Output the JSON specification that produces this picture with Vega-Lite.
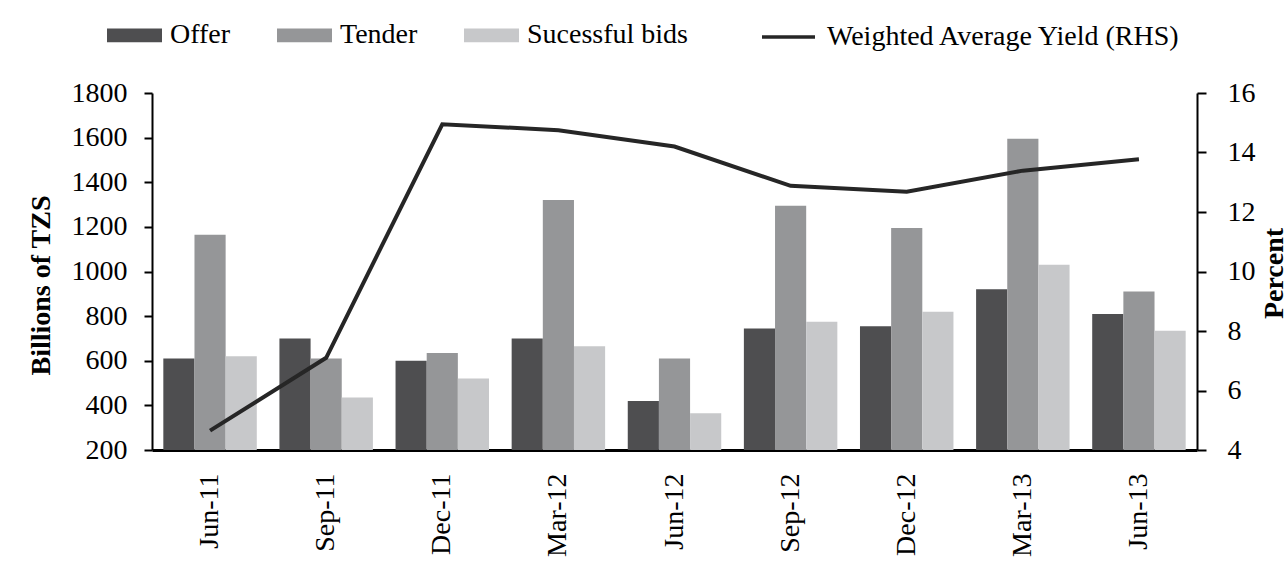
{
  "$schema": "https://vega.github.io/schema/vega-lite/v6.json",
  "width": 1045,
  "height": 357,
  "autosize": {"type": "none"},
  "padding": {"left": 152, "top": 93, "right": 90, "bottom": 118},
  "background": "white",
  "config": {
    "view": {"stroke": null},
    "font": "Liberation Serif",
    "axis": {
      "labelFont": "Liberation Serif",
      "labelFontSize": 28,
      "labelColor": "black",
      "titleFont": "Liberation Serif",
      "titleFontSize": 28,
      "titleFontWeight": "bold",
      "titleColor": "black",
      "domainColor": "black",
      "tickColor": "black",
      "grid": false,
      "labelOverlap": false
    }
  },
  "datasets": {
    "bars": [
      {"date": "Jun-11", "series": "Offer", "value": 610},
      {"date": "Jun-11", "series": "Tender", "value": 1165},
      {"date": "Jun-11", "series": "Sucessful bids", "value": 620},
      {"date": "Sep-11", "series": "Offer", "value": 700},
      {"date": "Sep-11", "series": "Tender", "value": 610},
      {"date": "Sep-11", "series": "Sucessful bids", "value": 435},
      {"date": "Dec-11", "series": "Offer", "value": 600},
      {"date": "Dec-11", "series": "Tender", "value": 635},
      {"date": "Dec-11", "series": "Sucessful bids", "value": 520},
      {"date": "Mar-12", "series": "Offer", "value": 700},
      {"date": "Mar-12", "series": "Tender", "value": 1320},
      {"date": "Mar-12", "series": "Sucessful bids", "value": 665},
      {"date": "Jun-12", "series": "Offer", "value": 420},
      {"date": "Jun-12", "series": "Tender", "value": 610},
      {"date": "Jun-12", "series": "Sucessful bids", "value": 365},
      {"date": "Sep-12", "series": "Offer", "value": 745},
      {"date": "Sep-12", "series": "Tender", "value": 1295},
      {"date": "Sep-12", "series": "Sucessful bids", "value": 775},
      {"date": "Dec-12", "series": "Offer", "value": 755},
      {"date": "Dec-12", "series": "Tender", "value": 1195},
      {"date": "Dec-12", "series": "Sucessful bids", "value": 820},
      {"date": "Mar-13", "series": "Offer", "value": 920},
      {"date": "Mar-13", "series": "Tender", "value": 1595},
      {"date": "Mar-13", "series": "Sucessful bids", "value": 1030},
      {"date": "Jun-13", "series": "Offer", "value": 810},
      {"date": "Jun-13", "series": "Tender", "value": 910},
      {"date": "Jun-13", "series": "Sucessful bids", "value": 735}
    ],
    "yield": [
      {"date": "Jun-11", "yield": 4.65},
      {"date": "Sep-11", "yield": 7.1},
      {"date": "Dec-11", "yield": 14.95},
      {"date": "Mar-12", "yield": 14.75},
      {"date": "Jun-12", "yield": 14.2},
      {"date": "Sep-12", "yield": 12.88},
      {"date": "Dec-12", "yield": 12.68},
      {"date": "Mar-13", "yield": 13.39},
      {"date": "Jun-13", "yield": 13.77}
    ]
  },
  "layer": [
    {
      "data": {"name": "bars"},
      "mark": {"type": "bar", "clip": true},
      "encoding": {
        "x": {
          "field": "date",
          "type": "nominal",
          "sort": ["Jun-11", "Sep-11", "Dec-11", "Mar-12", "Jun-12", "Sep-12", "Dec-12", "Mar-13", "Jun-13"],
          "scale": {"paddingInner": 0.195, "paddingOuter": 0.0975},
          "axis": {
            "title": null,
            "labelAngle": -90,
            "ticks": false,
            "tickSize": 0,
            "labelPadding": 23,
            "domainWidth": 3
          }
        },
        "xOffset": {
          "field": "series",
          "type": "nominal",
          "sort": ["Offer", "Tender", "Sucessful bids"],
          "scale": {"paddingInner": 0, "paddingOuter": 0}
        },
        "y": {
          "field": "value",
          "type": "quantitative",
          "scale": {"domain": [200, 1800], "nice": false, "zero": false},
          "axis": {
            "orient": "left",
            "format": "d",
            "values": [200, 400, 600, 800, 1000, 1200, 1400, 1600, 1800],
            "tickSize": 8,
            "tickWidth": 2,
            "domainWidth": 2,
            "labelPadding": 17,
            "title": "Billions of TZS",
            "titleAngle": -90,
            "titleX": -103,
            "titleY": 192,
            "titleAlign": "center",
            "titleBaseline": "alphabetic"
          }
        },
        "color": {
          "field": "series",
          "type": "nominal",
          "scale": {
            "domain": ["Offer", "Tender", "Sucessful bids"],
            "range": ["#4e4e50", "#959698", "#c7c8ca"]
          },
          "legend": {
            "title": null,
            "orient": "none",
            "legendX": -45,
            "legendY": -85.5,
            "direction": "horizontal",
            "symbolType": "M-1,-0.25H1V0.25H-1Z",
            "symbolSize": 3025,
            "symbolStrokeWidth": 0,
            "symbolOpacity": 1,
            "labelOffset": 8,
            "columnPadding": 46,
            "labelFont": "Liberation Serif",
            "labelFontSize": 28,
            "labelColor": "black",
            "labelLimit": 400,
            "padding": 0
          }
        }
      }
    },
    {
      "data": {"name": "yield"},
      "mark": {"type": "line", "strokeWidth": 4},
      "encoding": {
        "x": {
          "field": "date",
          "type": "nominal",
          "sort": ["Jun-11", "Sep-11", "Dec-11", "Mar-12", "Jun-12", "Sep-12", "Dec-12", "Mar-13", "Jun-13"]
        },
        "y": {
          "field": "yield",
          "type": "quantitative",
          "scale": {"domain": [4, 16], "nice": false, "zero": false},
          "axis": {
            "orient": "right",
            "values": [4, 6, 8, 10, 12, 14, 16],
            "tickSize": 9,
            "tickWidth": 2,
            "domainWidth": 2,
            "labelPadding": 21,
            "title": "Percent",
            "titleAngle": -90,
            "titleX": 85,
            "titleY": 180,
            "titleAlign": "center",
            "titleBaseline": "alphabetic"
          }
        },
        "stroke": {
          "datum": "Weighted Average Yield (RHS)",
          "type": "nominal",
          "scale": {"range": ["#262626"]},
          "legend": {
            "title": null,
            "orient": "none",
            "legendX": 608,
            "legendY": -84.5,
            "direction": "horizontal",
            "symbolType": "stroke",
            "symbolSize": 2809,
            "symbolStrokeWidth": 3.5,
            "labelOffset": 10,
            "labelFont": "Liberation Serif",
            "labelFontSize": 28,
            "labelColor": "black",
            "labelLimit": 500,
            "padding": 0
          }
        }
      }
    }
  ],
  "resolve": {"scale": {"y": "independent"}}
}
